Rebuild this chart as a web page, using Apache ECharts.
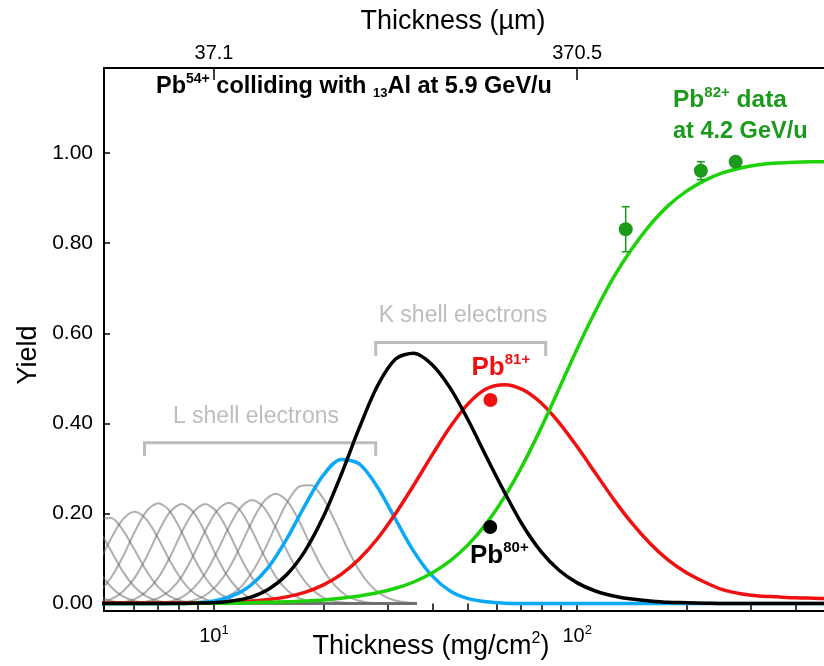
<!DOCTYPE html>
<html>
<head>
<meta charset="utf-8">
<title>Pb charge state yields</title>
<script src="https://cdn.jsdelivr.net/npm/echarts@6/dist/echarts.min.js"></script>
<style>
  html, body { margin: 0; padding: 0; background: #fff; }
  #chart { width: 824px; height: 666px; }
</style>
</head>
<body>
<div id="chart"></div>
<script>
// thickness grid (mg/cm2) for the coloured curves
const kThickness = [4.467, 5.012, 5.623, 6.310, 7.079, 7.943, 8.913, 10, 11.22, 12.59, 14.13, 15.85, 17.78, 19.95, 22.39, 25.12, 28.18, 31.62, 35.48, 39.81, 44.67, 50.12, 56.23, 63.10, 70.79, 79.43, 89.13, 100, 112.2, 125.9, 141.3, 158.5, 177.8, 199.5, 223.9, 251.2, 281.8, 316.2, 354.8, 398.1, 446.7, 501.2];
const blueYield = [0, 0, 0, 0, 0, 0.001, 0.002, 0.006, 0.017, 0.040, 0.081, 0.143, 0.217, 0.284, 0.320, 0.310, 0.259, 0.187, 0.116, 0.062, 0.028, 0.011, 0.004, 0.001, 0, 0, 0, 0, 0, 0, 0, 0, 0, 0, 0, 0, 0, 0, 0, 0, 0, 0];
const pb80Yield = [0, 0, 0, 0, 0, 0, 0.001, 0.002, 0.006, 0.014, 0.032, 0.064, 0.116, 0.191, 0.286, 0.390, 0.483, 0.543, 0.556, 0.531, 0.479, 0.407, 0.326, 0.247, 0.174, 0.116, 0.074, 0.046, 0.028, 0.017, 0.010, 0.006, 0.003, 0.002, 0.001, 0, 0, 0, 0, 0, 0, 0];
const pb81Yield = [0.002, 0.002, 0.002, 0.002, 0.002, 0.002, 0.002, 0.002, 0.003, 0.005, 0.009, 0.015, 0.025, 0.041, 0.065, 0.099, 0.144, 0.200, 0.263, 0.329, 0.392, 0.444, 0.477, 0.486, 0.475, 0.446, 0.402, 0.348, 0.290, 0.232, 0.179, 0.134, 0.097, 0.069, 0.048, 0.031, 0.022, 0.017, 0.015, 0.013, 0.012, 0.011];
const pb82Yield = [0, 0, 0, 0, 0, 0, 0.001, 0.001, 0.001, 0.002, 0.003, 0.004, 0.006, 0.008, 0.012, 0.017, 0.024, 0.034, 0.048, 0.068, 0.095, 0.131, 0.178, 0.237, 0.308, 0.389, 0.477, 0.566, 0.649, 0.724, 0.787, 0.840, 0.883, 0.915, 0.939, 0.956, 0.967, 0.974, 0.978, 0.980, 0.981, 0.981];

// thickness grid for the grey L shell curves
const lThickness = [2.664, 2.870, 3.093, 3.332, 3.590, 3.867, 4.166, 4.488, 4.836, 5.210, 5.613, 6.047, 6.515, 7.019, 7.562, 8.147, 8.777, 9.457, 10.19, 10.98, 11.83, 12.74, 13.73, 14.79, 15.93, 17.17, 18.49, 19.93, 21.47, 23.13, 24.92, 26.85, 28.93, 31.17, 33.58, 36.17];
const grey1  = [0.107, 0.153, 0.184, 0.187, 0.161, 0.117, 0.071, 0.037, 0.016, 0.006, 0.002, 0, 0, 0, 0, 0, 0, 0, 0, 0, 0, 0, 0, 0, 0, 0, 0, 0, 0, 0, 0, 0, 0, 0, 0, 0];
const grey2  = [0.032, 0.063, 0.107, 0.153, 0.184, 0.187, 0.161, 0.117, 0.071, 0.037, 0.016, 0.006, 0.002, 0, 0, 0, 0, 0, 0, 0, 0, 0, 0, 0, 0, 0, 0, 0, 0, 0, 0, 0, 0, 0, 0, 0];
const grey3  = [0.005, 0.013, 0.032, 0.063, 0.107, 0.153, 0.184, 0.187, 0.161, 0.117, 0.071, 0.037, 0.016, 0.006, 0.002, 0, 0, 0, 0, 0, 0, 0, 0, 0, 0, 0, 0, 0, 0, 0, 0, 0, 0, 0, 0, 0];
const grey4  = [0, 0.001, 0.005, 0.014, 0.032, 0.064, 0.109, 0.155, 0.187, 0.190, 0.163, 0.119, 0.073, 0.037, 0.016, 0.006, 0.002, 0, 0, 0, 0, 0, 0, 0, 0, 0, 0, 0, 0, 0, 0, 0, 0, 0, 0, 0];
const grey5  = [0, 0, 0, 0.001, 0.003, 0.010, 0.024, 0.053, 0.095, 0.145, 0.187, 0.204, 0.187, 0.145, 0.095, 0.053, 0.024, 0.010, 0.003, 0.001, 0, 0, 0, 0, 0, 0, 0, 0, 0, 0, 0, 0, 0, 0, 0, 0];
const grey6  = [0, 0, 0, 0, 0, 0.001, 0.004, 0.011, 0.027, 0.058, 0.104, 0.159, 0.205, 0.223, 0.205, 0.159, 0.104, 0.058, 0.027, 0.011, 0.004, 0.001, 0, 0, 0, 0, 0, 0, 0, 0, 0, 0, 0, 0, 0, 0];
const grey7  = [0, 0, 0, 0, 0, 0, 0, 0.001, 0.003, 0.010, 0.027, 0.057, 0.103, 0.158, 0.203, 0.221, 0.203, 0.158, 0.103, 0.057, 0.027, 0.010, 0.003, 0.001, 0, 0, 0, 0, 0, 0, 0, 0, 0, 0, 0, 0];
const grey8  = [0, 0, 0, 0, 0, 0, 0, 0, 0, 0.001, 0.003, 0.010, 0.027, 0.057, 0.103, 0.158, 0.203, 0.221, 0.203, 0.158, 0.103, 0.057, 0.027, 0.010, 0.003, 0.001, 0, 0, 0, 0, 0, 0, 0, 0, 0, 0];
const grey9  = [0, 0, 0, 0, 0, 0, 0, 0, 0, 0, 0, 0.001, 0.004, 0.012, 0.029, 0.060, 0.107, 0.161, 0.206, 0.224, 0.206, 0.161, 0.107, 0.060, 0.029, 0.012, 0.004, 0.001, 0, 0, 0, 0, 0, 0, 0, 0];
const grey10 = [0, 0, 0, 0, 0, 0, 0, 0, 0, 0, 0, 0, 0, 0.002, 0.005, 0.014, 0.034, 0.067, 0.115, 0.169, 0.213, 0.230, 0.213, 0.169, 0.115, 0.067, 0.034, 0.014, 0.005, 0.002, 0, 0, 0, 0, 0, 0];
const grey11 = [0, 0, 0, 0, 0, 0, 0, 0, 0, 0, 0, 0, 0, 0, 0.001, 0.002, 0.007, 0.018, 0.041, 0.077, 0.128, 0.183, 0.227, 0.244, 0.227, 0.183, 0.128, 0.077, 0.041, 0.018, 0.007, 0.002, 0.001, 0, 0, 0];
const grey12 = [0, 0, 0, 0, 0, 0, 0, 0, 0, 0, 0, 0, 0, 0, 0, 0, 0, 0.002, 0.007, 0.017, 0.036, 0.070, 0.117, 0.173, 0.226, 0.260, 0.263, 0.235, 0.185, 0.128, 0.078, 0.042, 0.020, 0.008, 0.003, 0.001];
const greyCurves = [grey1, grey2, grey3, grey4, grey5, grey6, grey7, grey8, grey9, grey10, grey11, grey12];

// measured points
const pb82DataX = [136, 219, 273];
const pb82DataY = [0.831, 0.961, 0.981];
const pb82DataErr = [0.05, 0.02, 0];
const pb81Point = [57.7, 0.452];
const pb80Point = [57.6, 0.17];

// axis ticks and labels
const bottomTicks = [6, 7, 8, 9, 10, 20, 30, 40, 50, 60, 70, 80, 90, 100, 200, 300, 400];
const topMajorTicks = [10, 100];
const topMinorTicks = [6, 7, 8, 9, 20, 30, 40, 50, 60, 70, 80, 90, 200, 300, 400];
const topTickLabels = ['37.1', '370.5'];
const yTicks = [0, 0.2, 0.4, 0.6, 0.8, 1.0];

const FONT = '"Liberation Sans", Arial, sans-serif';
const GREEN_LINE = '#1ed20a';
const GREEN_DOT = '#1c9a1c';
const RED = '#f01010';
const BLUE = '#0aa8f6';
const GREY_TEXT = '#bdbdbd';

const xMin = 4.98, xMax = 478;
const yMin = -0.0164, yMax = 1.189;

const chart = echarts.init(document.getElementById('chart'));

const axisLineStyle = { color: '#000', width: 2 };
const tickStyle = { color: '#000', width: 1.5 };

function curve(xs, ys, color, width, z) {
  return {
    type: 'line',
    data: xs.map((x, i) => [x, ys[i]]),
    showSymbol: false,
    smooth: 0.3,
    silent: true,
    lineStyle: { color: color, width: width },
    z: z
  };
}

function dots(data, color) {
  return {
    type: 'scatter', z: 8, silent: true, symbolSize: 14,
    itemStyle: { color: color, opacity: 1 },
    data: data
  };
}

const series = [];
greyCurves.forEach(g => series.push(curve(lThickness, g, 'rgba(110,110,110,0.55)', 2, 2)));
series.push(curve(kThickness, blueYield, BLUE, 3.5, 3));
series.push(curve(kThickness, pb81Yield, RED, 3.5, 4));
series.push(curve(kThickness, pb82Yield, GREEN_LINE, 3.5, 5));
series.push(curve(kThickness, pb80Yield, '#000', 3.5, 6));

// error bars of the Pb82+ data
series.push({
  type: 'custom',
  z: 7,
  silent: true,
  encode: { x: 0, y: [1, 2] },
  data: pb82DataX.map((x, i) => [x, pb82DataY[i] - pb82DataErr[i], pb82DataY[i] + pb82DataErr[i]])
    .filter((d, i) => pb82DataErr[i] > 0),
  renderItem: (params, api) => {
    const x = api.value(0);
    const lo = api.coord([x, api.value(1)]);
    const hi = api.coord([x, api.value(2)]);
    const hw = 4;
    const style = { stroke: GREEN_DOT, lineWidth: 1.5 };
    return {
      type: 'group',
      children: [
        { type: 'line', shape: { x1: lo[0], y1: lo[1], x2: hi[0], y2: hi[1] }, style: style },
        { type: 'line', shape: { x1: lo[0] - hw, y1: lo[1], x2: lo[0] + hw, y2: lo[1] }, style: style },
        { type: 'line', shape: { x1: hi[0] - hw, y1: hi[1], x2: hi[0] + hw, y2: hi[1] }, style: style }
      ]
    };
  }
});
series.push(dots(pb82DataX.map((x, i) => [x, pb82DataY[i]]), GREEN_DOT));
series.push(dots([pb81Point], RED));
series.push(dots([pb80Point], '#000'));

const logAxis = { type: 'log', logBase: 10, min: xMin, max: xMax, splitLine: { show: false }, minorTick: { show: false } };

const option = {
  animation: false,
  backgroundColor: '#fff',
  textStyle: { fontFamily: FONT },
  grid: { left: 104, right: 0, top: 68, bottom: 55, containLabel: false, outerBoundsMode: 'none' },
  xAxis: [
    {
      ...logAxis,
      position: 'bottom',
      axisLine: { onZero: false, lineStyle: axisLineStyle },
      axisTick: { inside: true, length: 6, customValues: bottomTicks, lineStyle: tickStyle },
      axisLabel: {
        customValues: topMajorTicks,
        margin: 13,
        formatter: v => '{b|10}{s|' + Math.round(Math.log10(v)) + '}',
        rich: {
          b: { fontSize: 20, lineHeight: 24, color: '#000', fontFamily: FONT },
          s: { fontSize: 13, lineHeight: 13, verticalAlign: 'top', color: '#000', fontFamily: FONT }
        }
      }
    },
    {
      ...logAxis,
      position: 'top',
      axisLine: { onZero: false, lineStyle: axisLineStyle },
      axisTick: { inside: true, length: 12, customValues: topMajorTicks, lineStyle: tickStyle },
      axisLabel: {
        customValues: topMajorTicks,
        margin: 5,
        fontSize: 20,
        color: '#000',
        fontFamily: FONT,
        formatter: v => topTickLabels[Math.round(Math.log10(v)) - 1]
      }
    },
    {
      ...logAxis,
      position: 'top',
      axisLine: { show: false },
      axisTick: { inside: true, length: 7, customValues: topMinorTicks, lineStyle: tickStyle },
      axisLabel: { show: false }
    }
  ],
  yAxis: {
    type: 'value',
    min: yMin,
    max: yMax,
    splitLine: { show: false },
    axisLine: { show: true, onZero: false, lineStyle: axisLineStyle },
    axisTick: { show: true, inside: true, length: 6, customValues: yTicks, lineStyle: tickStyle },
    axisLabel: {
      customValues: yTicks,
      margin: 11,
      fontSize: 21,
      color: '#000',
      fontFamily: FONT,
      formatter: v => v.toFixed(2)
    }
  },
  graphic: [
    // axis titles
    { type: 'text', x: 453, y: 22, silent: true,
      style: { text: 'Thickness (µm)', fontSize: 27, fontFamily: FONT, fill: '#000', align: 'center', verticalAlign: 'middle' } },
    { type: 'text', x: 431, y: 647, silent: true,
      style: {
        text: '{t|Thickness (mg/cm}{s|2}{t|)}', align: 'center', verticalAlign: 'middle',
        rich: {
          t: { fontSize: 27, lineHeight: 32, fill: '#000', fontFamily: FONT },
          s: { fontSize: 16, lineHeight: 16, verticalAlign: 'top', fill: '#000', fontFamily: FONT }
        }
      } },
    { type: 'text', x: 28.5, y: 355, rotation: Math.PI / 2, silent: true,
      style: { text: 'Yield', fontSize: 27, fontFamily: FONT, fill: '#000', align: 'center', verticalAlign: 'middle' } },
    // annotations
    { type: 'text', x: 156, y: 86.3, silent: true,
      style: {
        text: '{b|Pb}{sup|54+}{b| colliding with }{sub|13}{b|Al at 5.9 GeV/u}', align: 'left', verticalAlign: 'middle',
        rich: {
          b: { fontSize: 23.5, fontWeight: 'bold', lineHeight: 28, fill: '#000', fontFamily: FONT },
          sup: { fontSize: 14, fontWeight: 'bold', lineHeight: 14, verticalAlign: 'top', fill: '#000', fontFamily: FONT },
          sub: { fontSize: 13, fontWeight: 'bold', lineHeight: 13, verticalAlign: 'bottom', fill: '#000', fontFamily: FONT }
        }
      } },
    { type: 'text', x: 673, y: 100.5, silent: true,
      style: {
        text: '{b|Pb}{sup|82+}{b| data}', align: 'left', verticalAlign: 'middle',
        rich: {
          b: { fontSize: 24.5, fontWeight: 'bold', lineHeight: 30, fill: GREEN_DOT, fontFamily: FONT },
          sup: { fontSize: 15, fontWeight: 'bold', lineHeight: 15, verticalAlign: 'top', fill: GREEN_DOT, fontFamily: FONT }
        }
      } },
    { type: 'text', x: 673, y: 131.5, silent: true,
      style: { text: 'at 4.2 GeV/u', fontSize: 23.5, fontWeight: 'bold', fontFamily: FONT, fill: GREEN_DOT, align: 'left', verticalAlign: 'middle' } },
    { type: 'text', x: 471.5, y: 368.2, silent: true,
      style: {
        text: '{b|Pb}{sup|81+}', align: 'left', verticalAlign: 'middle',
        rich: {
          b: { fontSize: 26, fontWeight: 'bold', lineHeight: 31, fill: RED, fontFamily: FONT },
          sup: { fontSize: 15, fontWeight: 'bold', lineHeight: 15, verticalAlign: 'top', fill: RED, fontFamily: FONT }
        }
      } },
    { type: 'text', x: 470, y: 556, silent: true,
      style: {
        text: '{b|Pb}{sup|80+}', align: 'left', verticalAlign: 'middle',
        rich: {
          b: { fontSize: 26, fontWeight: 'bold', lineHeight: 31, fill: '#000', fontFamily: FONT },
          sup: { fontSize: 15, fontWeight: 'bold', lineHeight: 15, verticalAlign: 'top', fill: '#000', fontFamily: FONT }
        }
      } },
    { type: 'text', x: 463, y: 315.6, silent: true,
      style: { text: 'K shell electrons', fontSize: 23, fontFamily: FONT, fill: GREY_TEXT, align: 'center', verticalAlign: 'middle' } },
    { type: 'text', x: 256, y: 417, silent: true,
      style: { text: 'L shell electrons', fontSize: 23, fontFamily: FONT, fill: GREY_TEXT, align: 'center', verticalAlign: 'middle' } },
    // shell brackets
    { type: 'polyline', silent: true,
      shape: { points: [[144.5, 456], [144.5, 442.7], [375.7, 442.7], [375.7, 456]] },
      style: { stroke: GREY_TEXT, lineWidth: 3, fill: null } },
    { type: 'polyline', silent: true,
      shape: { points: [[375.7, 356], [375.7, 342.5], [545.7, 342.5], [545.7, 356]] },
      style: { stroke: GREY_TEXT, lineWidth: 3, fill: null } }
  ],
  series: series
};

chart.setOption(option);
</script>
</body>
</html>
